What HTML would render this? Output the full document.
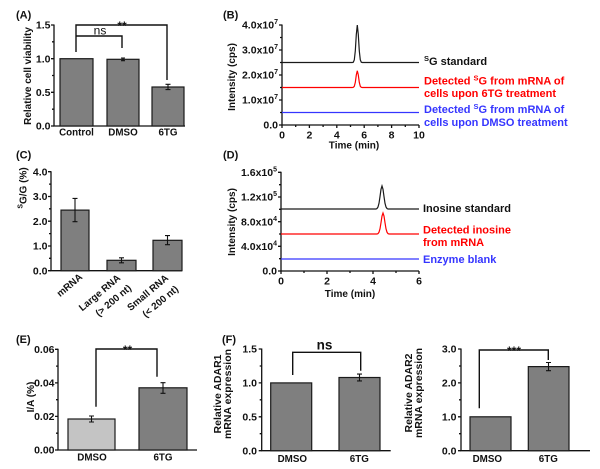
<!DOCTYPE html>
<html><head><meta charset="utf-8"><style>
html,body{margin:0;padding:0;background:#fff;}
svg{display:block;}
text{font-family:"Liberation Sans",Arial,sans-serif;font-weight:bold;fill:#111;}
.tk{font-size:10.5px;}
.xl{font-size:9.8px;}
.pl{font-size:11px;}
.lg{font-size:11px;}
.ax{stroke:#111;stroke-width:1.3;fill:none;}
.bar{fill:#7f7f7f;stroke:#1a1a1a;stroke-width:1.2;}
.bar2{fill:#c4c4c4;stroke:#1a1a1a;stroke-width:1.2;}
.eb{stroke:#111;stroke-width:1.1;fill:none;}
.br{stroke:#111;stroke-width:1.4;fill:none;}
</style></head><body>
<svg width="600" height="469" viewBox="0 0 600 469" xmlns="http://www.w3.org/2000/svg">
<rect width="600" height="469" fill="#fff"/>

<!-- ================= (A) ================= -->
<text class="pl" x="16" y="18.5">(A)</text>
<path class="ax" d="M54,24.5 V126 H185"/>
<path class="ax" d="M51,126H54 M51,92.3H54 M51,58.7H54 M51,25H54 M52,109.2H54 M52,75.5H54 M52,41.8H54"/>
<text class="tk" x="50.5" y="129.7" text-anchor="end">0.0</text>
<text class="tk" x="50.5" y="96" text-anchor="end">0.5</text>
<text class="tk" x="50.5" y="62.4" text-anchor="end">1.0</text>
<text class="tk" x="50.5" y="28.7" text-anchor="end">1.5</text>
<text class="tk" transform="translate(31,76) rotate(-90)" text-anchor="middle" style="font-size:10px">Relative cell viability</text>
<rect class="bar" x="60" y="58.7" width="33" height="67.3"/>
<rect class="bar" x="107" y="59.3" width="32" height="66.7"/>
<rect class="bar" x="152" y="87" width="32" height="39"/>
<path class="eb" d="M123,60.7V58 M121,58H125 M121,60.7H125"/>
<path class="eb" d="M168,89.6V84.3 M165.5,84.3H170.5 M165.5,89.6H170.5"/>
<text class="xl" x="76.5" y="135.5" text-anchor="middle">Control</text>
<text class="xl" x="123" y="135.5" text-anchor="middle">DMSO</text>
<text class="xl" x="168" y="135.5" text-anchor="middle">6TG</text>
<path class="br" d="M76,52 V25 H167 V80"/>
<path class="br" d="M76,36 H122 V48"/>
<text x="100" y="34.5" text-anchor="middle" style="font-size:12px;font-weight:normal">ns</text>
<text x="122" y="30" text-anchor="middle" style="font-size:12px">**</text>

<!-- ================= (B) ================= -->
<text class="pl" x="223" y="18.5">(B)</text>
<path class="ax" d="M282,24.5 V125 H419"/>
<path class="ax" d="M279,125H282 M279,100H282 M279,75H282 M279,50H282 M279,25H282 M280,112.5H282 M280,87.5H282 M280,62.5H282 M280,37.5H282"/>
<path class="ax" d="M282,125V128 M309.4,125V128 M336.8,125V128 M364.2,125V128 M391.6,125V128 M419,125V128 M295.7,125V127 M323.1,125V127 M350.5,125V127 M377.9,125V127 M405.3,125V127"/>
<text class="tk" x="278" y="128.7" text-anchor="end">0.0</text>
<text class="tk" x="278" y="103.7" text-anchor="end">1.0x10<tspan font-size="7" dy="-4.5">7</tspan></text>
<text class="tk" x="278" y="78.7" text-anchor="end">2.0x10<tspan font-size="7" dy="-4.5">7</tspan></text>
<text class="tk" x="278" y="53.7" text-anchor="end">3.0x10<tspan font-size="7" dy="-4.5">7</tspan></text>
<text class="tk" x="278" y="28.7" text-anchor="end">4.0x10<tspan font-size="7" dy="-4.5">7</tspan></text>
<text class="tk" x="282" y="138.5" text-anchor="middle">0</text>
<text class="tk" x="309.4" y="138.5" text-anchor="middle">2</text>
<text class="tk" x="336.8" y="138.5" text-anchor="middle">4</text>
<text class="tk" x="364.2" y="138.5" text-anchor="middle">6</text>
<text class="tk" x="391.6" y="138.5" text-anchor="middle">8</text>
<text class="tk" x="419" y="138.5" text-anchor="middle">10</text>
<text x="354" y="148.5" text-anchor="middle" style="font-size:10px">Time (min)</text>
<text transform="translate(235,77) rotate(-90)" text-anchor="middle" style="font-size:10px">Intensity (cps)</text>
<polyline fill="none" stroke="#1a1a1a" stroke-width="1.2" points="282,62.5 352.3,62.5 353.3,62.2 354.3,59.9 355.3,51 356.3,34.6 357.3,25 358.3,34.6 359.3,51 360.3,59.9 361.3,62.2 362.3,62.5 419,62.5"/>
<polyline fill="none" stroke="#ff0000" stroke-width="1.2" points="282,87.5 352.3,87.5 353.3,87.35 354.3,86.3 355.3,82.4 356.3,75 357.3,70.7 358.3,75 359.3,82.4 360.3,86.3 361.3,87.35 362.3,87.5 419,87.5"/>
<line x1="282" y1="112.5" x2="419" y2="112.5" stroke="#3535ff" stroke-width="1.2"/>
<text class="lg" x="424" y="65"><tspan font-size="7.5" dy="-4">S</tspan><tspan dy="4">G standard</tspan></text>
<text class="lg" x="424" y="84.5" style="fill:#ff0000">Detected <tspan font-size="7.5" dy="-4">S</tspan><tspan dy="4">G from mRNA of</tspan></text>
<text class="lg" x="424" y="97" style="fill:#ff0000">cells upon 6TG treatment</text>
<text class="lg" x="424" y="113" style="fill:#3535ff">Detected <tspan font-size="7.5" dy="-4">S</tspan><tspan dy="4">G from mRNA of</tspan></text>
<text class="lg" x="424" y="126" style="fill:#3535ff">cells upon DMSO treatment</text>

<!-- ================= (C) ================= -->
<text class="pl" x="16" y="158.5">(C)</text>
<path class="ax" d="M51,171.2 V270.7 H182"/>
<path class="ax" d="M48,270.7H51 M48,246H51 M48,221.2H51 M48,196.5H51 M48,171.7H51 M49,258.3H51 M49,233.6H51 M49,208.8H51 M49,184.1H51"/>
<text class="tk" x="47.5" y="274.4" text-anchor="end">0.0</text>
<text class="tk" x="47.5" y="249.7" text-anchor="end">1.0</text>
<text class="tk" x="47.5" y="224.9" text-anchor="end">2.0</text>
<text class="tk" x="47.5" y="200.2" text-anchor="end">3.0</text>
<text class="tk" x="47.5" y="175.4" text-anchor="end">4.0</text>
<text transform="translate(26.5,188) rotate(-90)" text-anchor="middle" style="font-size:10px"><tspan font-size="7" dy="-4">S</tspan><tspan dy="4">G/G (%)</tspan></text>
<rect class="bar" x="61" y="210.1" width="28" height="60.6"/>
<rect class="bar" x="107" y="260.3" width="29" height="10.4"/>
<rect class="bar" x="153" y="240.3" width="29" height="30.4"/>
<path class="eb" d="M75,221.7V198.4 M72.5,198.4H77.5 M72.5,221.7H77.5"/>
<path class="eb" d="M121.5,262.8V257.8 M119,257.8H124 M119,262.8H124"/>
<path class="eb" d="M167.5,244.7V235.6 M165,235.6H170 M165,244.7H170"/>
<text class="xl" transform="translate(83,278) rotate(-40)" text-anchor="end">mRNA</text>
<text class="xl" transform="translate(121,279) rotate(-40)" text-anchor="end">Large RNA</text>
<text class="xl" transform="translate(132,289) rotate(-40)" text-anchor="end">(&gt; 200 nt)</text>
<text class="xl" transform="translate(169,279) rotate(-40)" text-anchor="end">Small RNA</text>
<text class="xl" transform="translate(179,290) rotate(-40)" text-anchor="end">(&lt; 200 nt)</text>

<!-- ================= (D) ================= -->
<text class="pl" x="223" y="158.5">(D)</text>
<path class="ax" d="M281,171.8 V271 H419"/>
<path class="ax" d="M278,271H281 M278,246.3H281 M278,221.7H281 M278,197H281 M278,172.3H281 M279,258.7H281 M279,234H281 M279,209.3H281 M279,184.7H281"/>
<path class="ax" d="M281,271V274 M327,271V274 M373,271V274 M419,271V274 M304,271V273 M350,271V273 M396,271V273"/>
<text class="tk" x="277" y="274.7" text-anchor="end">0.0</text>
<text class="tk" x="277" y="250" text-anchor="end">4.0x10<tspan font-size="7" dy="-4.5">4</tspan></text>
<text class="tk" x="277" y="225.4" text-anchor="end">8.0x10<tspan font-size="7" dy="-4.5">4</tspan></text>
<text class="tk" x="277" y="200.7" text-anchor="end">1.2x10<tspan font-size="7" dy="-4.5">5</tspan></text>
<text class="tk" x="277" y="176" text-anchor="end">1.6x10<tspan font-size="7" dy="-4.5">5</tspan></text>
<text class="tk" x="281" y="284.5" text-anchor="middle">0</text>
<text class="tk" x="327" y="284.5" text-anchor="middle">2</text>
<text class="tk" x="373" y="284.5" text-anchor="middle">4</text>
<text class="tk" x="419" y="284.5" text-anchor="middle">6</text>
<text x="350" y="297" text-anchor="middle" style="font-size:10px">Time (min)</text>
<text transform="translate(235,222) rotate(-90)" text-anchor="middle" style="font-size:10px">Intensity (cps)</text>
<polyline fill="none" stroke="#1a1a1a" stroke-width="1.2" points="281,209 376,209 377,208.5 378,207 379,203.3 380,196.6 381,189.3 382,186 383,189.3 384,196.6 385,203.3 386,207 387,208.5 388,209 419,209"/>
<polyline fill="none" stroke="#ff0000" stroke-width="1.2" points="281,234 377,234 378,233.6 379,232.2 380,228.8 381,222.7 382,216 383,213 384,216 385,222.7 386,228.8 387,232.2 388,233.6 389,234 419,234"/>
<line x1="281" y1="259" x2="419" y2="259" stroke="#3535ff" stroke-width="1.2"/>
<text class="lg" x="423" y="212">Inosine standard</text>
<text class="lg" x="423" y="233.5" style="fill:#ff0000">Detected inosine</text>
<text class="lg" x="423" y="246" style="fill:#ff0000">from mRNA</text>
<text class="lg" x="423" y="263" style="fill:#3535ff">Enzyme blank</text>

<!-- ================= (E) ================= -->
<text class="pl" x="16" y="343">(E)</text>
<path class="ax" d="M58,348.8 V450 H197"/>
<path class="ax" d="M55,450H58 M55,416.4H58 M55,382.9H58 M55,349.3H58 M56,433.2H58 M56,399.7H58 M56,366.1H58"/>
<text class="tk" x="54.5" y="453.7" text-anchor="end">0.00</text>
<text class="tk" x="54.5" y="420.1" text-anchor="end">0.02</text>
<text class="tk" x="54.5" y="386.6" text-anchor="end">0.04</text>
<text class="tk" x="54.5" y="353" text-anchor="end">0.06</text>
<text transform="translate(34,397) rotate(-90)" text-anchor="middle" style="font-size:10px">I/A (%)</text>
<rect class="bar2" x="68" y="419" width="47" height="31"/>
<rect class="bar" x="139" y="387.8" width="48" height="62.2"/>
<path class="eb" d="M91.5,422V416 M89,416H94 M89,422H94"/>
<path class="eb" d="M163,393.3V382.7 M160.5,382.7H165.5 M160.5,393.3H165.5"/>
<text class="xl" x="92" y="460.5" text-anchor="middle">DMSO</text>
<text class="xl" x="163" y="460.5" text-anchor="middle">6TG</text>
<path class="br" d="M96,406.7 V349 H157 V376.7"/>
<text x="127.5" y="354" text-anchor="middle" style="font-size:12px">**</text>

<!-- ================= (F) left ================= -->
<text class="pl" x="222" y="343">(F)</text>
<path class="ax" d="M261.7,348.5 V450.7 H390.7"/>
<path class="ax" d="M258.7,450.7H261.7 M258.7,416.8H261.7 M258.7,382.9H261.7 M258.7,349H261.7 M259.7,433.7H261.7 M259.7,399.8H261.7 M259.7,366H261.7"/>
<text class="tk" x="257" y="454.4" text-anchor="end">0.0</text>
<text class="tk" x="257" y="420.5" text-anchor="end">0.5</text>
<text class="tk" x="257" y="386.6" text-anchor="end">1.0</text>
<text class="tk" x="257" y="352.7" text-anchor="end">1.5</text>
<text transform="translate(221,394) rotate(-90)" text-anchor="middle" style="font-size:10.5px">Relative ADAR1</text>
<text transform="translate(231,394) rotate(-90)" text-anchor="middle" style="font-size:10.5px">mRNA expression</text>
<rect class="bar" x="270.7" y="382.9" width="41" height="67.8"/>
<rect class="bar" x="339" y="377.5" width="41" height="73.2"/>
<path class="eb" d="M359.5,380.9V374.1 M357,374.1H362 M357,380.9H362"/>
<text class="xl" x="292.3" y="462" text-anchor="middle">DMSO</text>
<text class="xl" x="359.3" y="462" text-anchor="middle">6TG</text>
<path class="br" d="M292.7,375 V352.3 H360.7 V370.7"/>
<text x="324.5" y="349.5" text-anchor="middle" style="font-size:13.5px">ns</text>

<!-- ================= (F) right ================= -->
<path class="ax" d="M461,348.5 V450.7 H590"/>
<path class="ax" d="M458,450.7H461 M458,416.8H461 M458,382.9H461 M458,349H461 M459,433.7H461 M459,399.8H461 M459,366H461"/>
<text class="tk" x="456.5" y="454.4" text-anchor="end">0.0</text>
<text class="tk" x="456.5" y="420.5" text-anchor="end">1.0</text>
<text class="tk" x="456.5" y="386.6" text-anchor="end">2.0</text>
<text class="tk" x="456.5" y="352.7" text-anchor="end">3.0</text>
<text transform="translate(412,393) rotate(-90)" text-anchor="middle" style="font-size:10.5px">Relative ADAR2</text>
<text transform="translate(422,393) rotate(-90)" text-anchor="middle" style="font-size:10.5px">mRNA expression</text>
<rect class="bar" x="470" y="416.8" width="41" height="33.9"/>
<rect class="bar" x="528.3" y="366.6" width="40.7" height="84.1"/>
<path class="eb" d="M548.5,370.7V362.5 M546,362.5H551 M546,370.7H551"/>
<text class="xl" x="487.3" y="462" text-anchor="middle">DMSO</text>
<text class="xl" x="548.3" y="462" text-anchor="middle">6TG</text>
<path class="br" d="M479.3,408.3 V350 H548.3 V360"/>
<text x="514" y="355" text-anchor="middle" style="font-size:12px">***</text>
</svg>
</body></html>
